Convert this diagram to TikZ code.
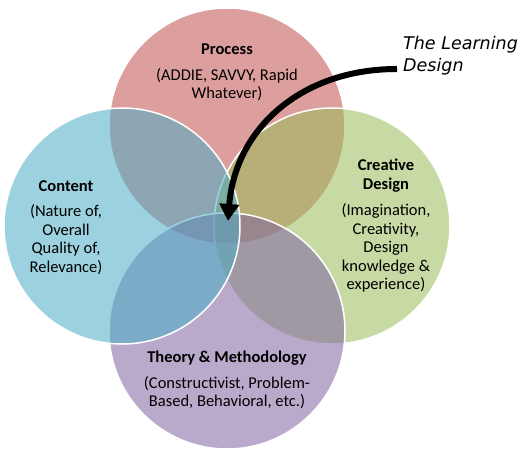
\documentclass[tikz,border=0pt]{standalone}
\usepackage{fontspec}
\setmainfont{Carlito}
\newfontfamily\handfont{DejaVu Sans}
\usetikzlibrary{arrows.meta}
\definecolor{procred}{RGB}{192,80,77}
\definecolor{contblue}{RGB}{75,172,198}
\definecolor{desgreen}{RGB}{155,187,89}
\definecolor{theopurple}{RGB}{128,100,162}

\begin{document}
\begin{tikzpicture}[x=1pt,y=-1pt,line cap=round,line join=round,
  ring/.style={draw=white,line width=1.5pt,fill opacity=0.55},
  txt/.style={font=\fontsize{16.5}{18.5}\selectfont,align=center,inner sep=0pt},
  head/.style={font=\fontsize{16.5}{18.5}\selectfont\bfseries,align=center,inner sep=0pt}]
\useasboundingbox (0,0) rectangle (526,462);
% the four circles
\filldraw[ring,fill=procred] (227,126) circle (118pt);
\filldraw[ring,fill=desgreen] (332,226) circle (118pt);
\filldraw[ring,fill=theopurple] (227,331) circle (118pt);
\filldraw[ring,fill=contblue] (122,226) circle (118pt);
% texts
\node[head] (process) at (227,49) {Process};
\node[txt] (processsub) at (227,84.5) {(ADDIE, SAVVY, Rapid\\Whatever)};
\node[head] (content) at (66,186) {Content};
\node[txt] (contentsub) at (66,239.5) {(Nature of,\\Overall\\Quality of,\\Relevance)};
\node[head] (creative) at (386,175.5) {Creative\\Design};
\node[txt] (creativesub) at (386,248) {(Imagination,\\Creativity,\\Design\\knowledge \&\\experience)};
\node[head] (theory) at (227,358) {Theory \& Methodology};
\node[txt] (theorysub) at (227,392.5) {(Constructivist, Problem-\\Based, Behavioral, etc.)};
% the learning design
\coordinate (core) at (228,221);
\node[font=\handfont\itshape\fontsize{17.5}{22}\selectfont,align=left,anchor=south west,inner sep=0pt]
  (learn) at (403,75) {The Learning\\Design};
\draw[line width=6pt,line cap=butt,-{Triangle[width=19pt,length=17pt]}]
  ([xshift=-6pt,yshift=6pt]learn.south west) .. controls (300,69) and (235,130) .. (core);
\end{tikzpicture}
\end{document}
